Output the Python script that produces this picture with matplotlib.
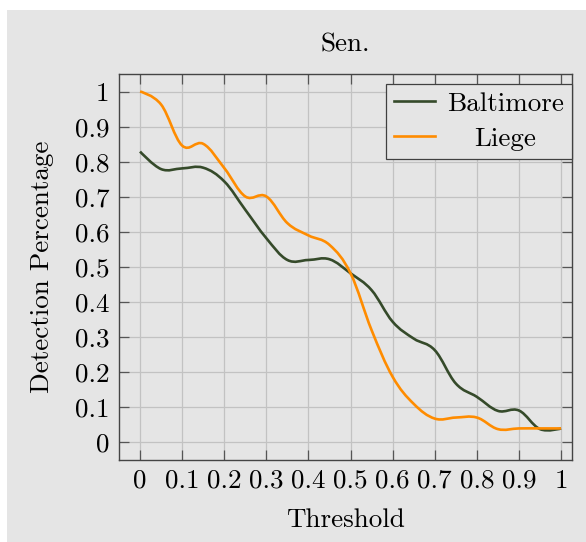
import matplotlib
matplotlib.use("Agg")
import matplotlib.pyplot as plt
from matplotlib.path import Path
from matplotlib.patches import PathPatch, Rectangle
from matplotlib.lines import Line2D
import numpy as np

# datos (umbral cada 0.05)
umbral = [0.0, 0.05, 0.1, 0.15, 0.2, 0.25, 0.3, 0.35, 0.4, 0.45, 0.5,
          0.55, 0.6, 0.65, 0.7, 0.75, 0.8, 0.85, 0.9, 0.95, 1.0]
baltimore = [0.829, 0.779, 0.781, 0.783, 0.744, 0.663, 0.582, 0.52, 0.52, 0.522, 0.482,
             0.434, 0.344, 0.296, 0.263, 0.168, 0.13, 0.09, 0.091, 0.038, 0.04]
liege = [1.0, 0.963, 0.846, 0.851, 0.782, 0.701, 0.701, 0.625, 0.59, 0.563, 0.482,
         0.32, 0.187, 0.11, 0.068, 0.071, 0.071, 0.038, 0.04, 0.04, 0.04]
series = ["Baltimore", "Liege"]
colores = ["#354a2a", "#ff8c00"]
ticks = [0, 0.1, 0.2, 0.3, 0.4, 0.5, 0.6, 0.7, 0.8, 0.9, 1]
etiquetas = ["0", "0.1", "0.2", "0.3", "0.4", "0.5", "0.6", "0.7", "0.8", "0.9", "1"]

plt.rcParams["font.family"] = "cmr10"
plt.rcParams["axes.formatter.use_mathtext"] = True
plt.rcParams["mathtext.fontset"] = "cm"

FONDO = "#e5e5e5"
FS = 19.5


def curva_suave(xs, ys, tension=0.183):
    # curva tipo "smooth" de pgfplots con beziers
    p = np.column_stack([xs, ys])
    n = len(p)
    verts = [p[0]]
    codes = [Path.MOVETO]
    for i in range(n - 1):
        prev = p[i - 1] if i > 0 else p[i]
        nxt = p[i + 2] if i + 2 < n else p[i + 1]
        c1 = p[i] + tension * (p[i + 1] - prev) if i > 0 else p[i]
        c2 = p[i + 1] - tension * (nxt - p[i]) if i + 2 < n else p[i + 1]
        verts += [c1, c2, p[i + 1]]
        codes += [Path.CURVE4] * 3
    return Path(verts, codes)


fig = plt.figure(figsize=(5.86, 5.42), dpi=100)
fig.patch.set_facecolor("white")
fig.patches.append(Rectangle((7 / 586, 0), 1, 1 - 10 / 542, transform=fig.transFigure,
                             facecolor=FONDO, edgecolor="none", zorder=-10))

ax = fig.add_axes([119 / 586, 1 - 460 / 542, (572 - 119) / 586, (460 - 74) / 542])
ax.set_facecolor(FONDO)

for nombre, datos, color in zip(series, [baltimore, liege], colores):
    ax.add_patch(PathPatch(curva_suave(umbral, datos), facecolor="none",
                           edgecolor=color, lw=1.9, zorder=3))

ax.set_xlim(-0.05, 1.026)
ax.set_ylim(-0.05, 1.05)
ax.set_xticks(ticks)
ax.set_yticks(ticks)
ax.set_xticklabels(etiquetas)
ax.set_yticklabels(etiquetas)

ax.grid(True, color="#c2c2c2", lw=0.9)
ax.set_axisbelow(True)
ax.tick_params(direction="in", length=7, width=0.9, color="#555555",
               top=True, right=True, labelsize=FS)
ax.tick_params(axis="x", pad=6.5)
ax.tick_params(axis="y", pad=7)
for s in ax.spines.values():
    s.set_color("#444444")
    s.set_linewidth(1.0)

ax.set_title("Sen.", fontsize=FS, pad=16)
ax.set_xlabel("Threshold", fontsize=FS, labelpad=11)
ax.set_ylabel("Detection Percentage", fontsize=FS, labelpad=15)

handles = [Line2D([], [], color=c, lw=1.9) for c in colores]
leg = ax.legend(handles, series, loc="upper right", bbox_to_anchor=(1.0, 0.975),
                borderaxespad=0, fancybox=False, framealpha=1, fontsize=FS,
                handlelength=1.5, handletextpad=0.45, labelspacing=0.4,
                borderpad=0.3)
leg.get_frame().set_facecolor(FONDO)
leg.get_frame().set_edgecolor("#404040")
leg.get_frame().set_linewidth(0.9)

# centrar las etiquetas de la leyenda como en pgfplots
fig.canvas.draw()
r = fig.canvas.get_renderer()
anchos = [t.get_window_extent(r).width for t in leg.get_texts()]
for t, w in zip(leg.get_texts(), anchos):
    t.set_x((max(anchos) - w) / 2)

fig.savefig("out.png", dpi=100, facecolor=fig.get_facecolor())
